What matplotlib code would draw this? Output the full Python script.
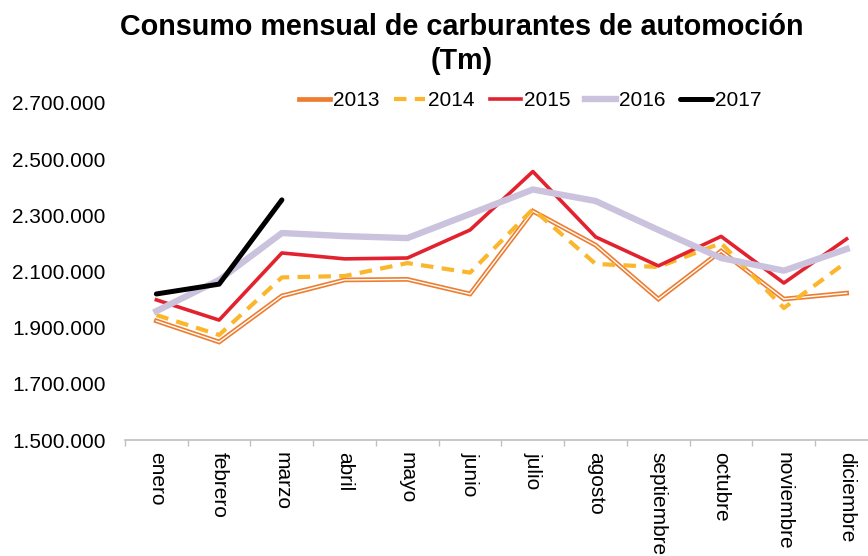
import matplotlib.pyplot as plt
import numpy as np

plt.rcParams['font.family'] = ['Liberation Sans', 'DejaVu Sans']

meses = ['enero', 'febrero', 'marzo', 'abril', 'mayo', 'junio', 'julio',
         'agosto', 'septiembre', 'octubre', 'noviembre', 'diciembre']

# consumo mensual (Tm)
c2013 = [1924000, 1849000, 2013000, 2070000, 2072000, 2020000, 2315000,
         2194000, 2002000, 2173000, 2002000, 2023000]
c2014 = [1945000, 1874000, 2079000, 2084000, 2130000, 2096000, 2322000,
         2127000, 2116000, 2201000, 1970000, 2134000]
c2015 = [1999000, 1927000, 2166000, 2145000, 2148000, 2248000, 2456000,
         2223000, 2120000, 2225000, 2059000, 2216000]
c2016 = [1959000, 2070000, 2237000, 2226000, 2219000, 2305000, 2392000,
         2351000, 2248000, 2148000, 2103000, 2180000]
c2017 = [2020000, 2055000, 2355000]

fig = plt.figure(figsize=(8.68, 5.56), dpi=100)
ax = fig.add_axes([125/868, 116/556, 753/868, 337/556])

x = np.arange(len(meses))

# 2013 se dibuja como linea doble (naranja con centro blanco)
ax.plot(x, c2013, color='#ED7D31', lw=3.4, label='2013', solid_joinstyle='miter')
ax.plot(x, c2013, color='white', lw=1.0, solid_joinstyle='miter')
ax.plot(x, c2014, color='#FBB62C', lw=3.0, ls=(0, (3, 2)), label='2014')
ax.plot(x, c2015, color='#E2222E', lw=2.6, label='2015')
ax.plot(x, c2016, color='#CBC3DD', lw=4.6, label='2016')
ax.plot(np.arange(len(c2017)), c2017, color='black', lw=3.6, label='2017',
        solid_capstyle='round')

ax.set_xlim(-0.5, 11.5)
ax.set_ylim(1500000, 2700000)
yt = np.arange(1500000, 2700001, 200000)
ax.set_yticks(yt)
ax.set_yticklabels([f'{v:,}'.replace(',', '.') for v in yt])

ax.set_xticks(x)
ax.set_xticklabels(meses, rotation=-90, va='top', ha='center')
ax.set_xticks(np.arange(-0.5, 12, 1), minor=True)
ax.tick_params(axis='x', which='major', length=0, pad=9, labelsize=15)
ax.tick_params(axis='x', which='minor', length=4.5, color='#BFBFBF', width=1)
ax.tick_params(axis='y', length=0, pad=14, labelsize=15)

for s in ['top', 'right', 'left']:
    ax.spines[s].set_visible(False)
ax.spines['bottom'].set_color('#BFBFBF')
ax.spines['bottom'].set_linewidth(1.2)

fig.text(462/868, 1 - 44/556, 'Consumo mensual de carburantes de automoción\n(Tm)',
         ha='center', va='center', fontsize=20.7, fontweight='bold', linespacing=1.3)

leg = fig.legend(loc='center', bbox_to_anchor=(530/868, 1 - 101/556), ncol=5,
                 frameon=False, fontsize=15, handlelength=1.5,
                 handletextpad=0.15, columnspacing=0.7)

fig.savefig('out.png', dpi=100)
